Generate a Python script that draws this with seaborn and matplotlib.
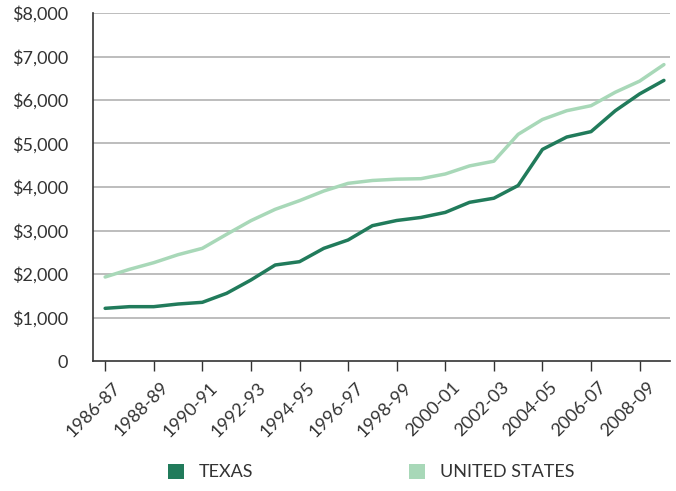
import matplotlib
matplotlib.use("Agg")
import matplotlib.pyplot as plt
import matplotlib.transforms as mtransforms
import seaborn as sns
import pandas as pd
from matplotlib.patches import Patch
from matplotlib.ticker import FuncFormatter

# School years 1986-87 through 2009-10
years = [f"{y}-{str(y + 1)[-2:]}" for y in range(1986, 2010)]

# Per-student spending, dollars
texas = [1211, 1249, 1249, 1310, 1349, 1556, 1862, 2207, 2283, 2590, 2782, 3111,
         3230, 3300, 3416, 3648, 3742, 4035, 4864, 5149, 5273, 5754, 6140, 6451]
united_states = [1931, 2107, 2260, 2444, 2590, 2912, 3226, 3487, 3686, 3908, 4084, 4150,
                 4180, 4191, 4299, 4485, 4593, 5211, 5552, 5754, 5869, 6179, 6434, 6814]

series_names = ["TEXAS", "UNITED STATES"]
colors = {"TEXAS": "#217b5b", "UNITED STATES": "#a8d8b8"}

df = pd.DataFrame({
    "idx": list(range(len(years))) * 2,
    "value": texas + united_states,
    "series": [series_names[0]] * len(years) + [series_names[1]] * len(years),
})

sns.set_theme(style="white")
plt.rcParams["font.family"] = ["Lato", "DejaVu Sans"]
text_color = "#333333"

fig = plt.figure(figsize=(6.76, 4.91), dpi=100)
ax = fig.add_axes([93 / 676, 1 - 361 / 491, (670 - 93) / 676, (361 - 13) / 491])

for y in range(1000, 9000, 1000):
    ax.axhline(y, color="#b8b8b8", lw=1.3, zorder=0)

sns.lineplot(data=df, x="idx", y="value", hue="series", palette=colors,
             linewidth=2.5, legend=False, ax=ax)

ax.set_xlim(-0.5, len(years) - 0.75)
ax.set_ylim(0, 8000)
ax.set_xlabel("")
ax.set_ylabel("")

tick_pos = list(range(0, len(years), 2))
ax.set_xticks(tick_pos)
ax.set_xticklabels([years[i] for i in tick_pos], rotation=45, ha="right",
                   rotation_mode="anchor", fontsize=13, color=text_color)
ax.tick_params(axis="x", direction="out", length=7, width=1, color="#333333",
               bottom=True, pad=4)
shift = mtransforms.ScaledTranslation(7 / 100, -3 / 100, fig.dpi_scale_trans)
for lbl in ax.get_xticklabels():
    lbl.set_transform(lbl.get_transform() + shift)

ax.set_yticks(range(0, 9000, 1000))
ax.yaxis.set_major_formatter(FuncFormatter(lambda v, _: "0" if v == 0 else f"${v:,.0f}"))
ax.tick_params(axis="y", length=0, labelsize=13, labelcolor=text_color, pad=18)

for side in ["top", "right"]:
    ax.spines[side].set_visible(False)
for side in ["left", "bottom"]:
    ax.spines[side].set_color("#333333")
    ax.spines[side].set_linewidth(1.2)

handles = [Patch(facecolor=colors[n], edgecolor="none") for n in series_names]
fig.legend(handles, series_names, loc="center", bbox_to_anchor=(371 / 676, 1 - 472 / 491),
           ncol=2, frameon=False, fontsize=13, handlelength=0.9, handleheight=0.9,
           handletextpad=0.8, columnspacing=8.65, labelcolor=text_color)

fig.savefig("out.png", dpi=100)
